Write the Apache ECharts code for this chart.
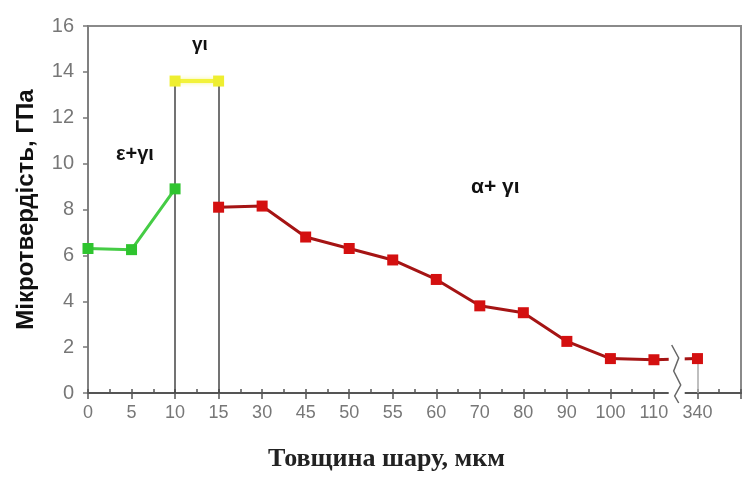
<!DOCTYPE html>
<html>
<head>
<meta charset="utf-8">
<script src="https://cdn.jsdelivr.net/npm/echarts@6/dist/echarts.min.js"></script>
<style>
html,body{margin:0;padding:0;background:#fff;}
#chart{width:744px;height:483px;}
</style>
</head>
<body>
<div id="chart"></div>
<script>
// категорії осі X (остання порожня - хвіст осі)
var categories = ['0','5','10','15','30','45','50','55','60','70','80','90','100','110','340',''];
var greenValues = [6.3, 6.25, 8.9];            // ε+γ'
var yellowValues = [null, null, 13.6, 13.6];   // γ'
var redValues = [null, null, null, 8.1, 8.15, 6.8, 6.3, 5.8, 4.95, 3.8, 3.5, 2.25, 1.5, 1.45, 1.5];
var yTicks = [0, 16, 2];

var dom = document.getElementById('chart');
var myChart = echarts.init(dom);
var option = {
	animation: false,
	backgroundColor: '#fff',
	grid: {
		left: 88, right: -3, top: 26, bottom: 90,
		show: true, borderColor: '#8a8a8a', borderWidth: 2
	},
	xAxis: [{
		type: 'category',
		data: categories,
		boundaryGap: false,
		axisLine: {lineStyle: {color: '#555', width: 2}},
		axisTick: {show: true, length: 6, alignWithLabel: true, lineStyle: {color: '#555', width: 1.5}},
		axisLabel: {color: '#777', fontSize: 18, fontFamily: 'Liberation Sans Narrow, Arial', margin: 11, interval: 0},
		splitLine: {show: false}
	}, {
		type: 'value',
		min: 0, max: 15, interval: 0.5,
		position: 'bottom',
		axisLine: {show: false},
		axisTick: {show: true, inside: true, length: 4, lineStyle: {color: '#555', width: 1.5}},
		axisLabel: {show: false},
		splitLine: {show: false}
	}],
	yAxis: {
		type: 'value',
		min: yTicks[0], max: yTicks[1], interval: yTicks[2],
		axisLine: {show: true, lineStyle: {color: '#808080', width: 2}},
		axisTick: {show: true, length: 5, lineStyle: {color: '#777', width: 1.5}},
		axisLabel: {color: '#777', fontSize: 20, fontFamily: 'Liberation Sans Narrow, Arial', margin: 14},
		splitLine: {show: false},
		name: 'Мікротвердість, ГПа',
		nameLocation: 'middle',
		nameGap: 50,
		nameTextStyle: {color: '#111', fontSize: 24, fontWeight: 'bold', fontFamily: 'Liberation Sans, Arial'}
	},
	series: [{
		type: 'line',
		data: greenValues,
		symbol: 'rect', symbolSize: 11,
		lineStyle: {color: '#45cc45', width: 3},
		itemStyle: {color: '#2fc42f'},
		z: 5
	}, {
		type: 'line',
		data: yellowValues,
		symbol: 'rect', symbolSize: 11,
		lineStyle: {color: '#f2f23a', width: 4, shadowColor: 'rgba(240,240,60,0.6)', shadowBlur: 4},
		itemStyle: {color: '#eeee30'},
		z: 5,
		markLine: {
			symbol: 'none', silent: true,
			label: {show: false},
			lineStyle: {color: '#444', width: 1.5, type: 'solid'},
			data: [
				[{coord: ['10', 0]}, {coord: ['10', 13.6]}],
				[{coord: ['15', 0]}, {coord: ['15', 13.6]}]
			]
		}
	}, {
		type: 'line',
		data: redValues,
		symbol: 'rect', symbolSize: 11,
		lineStyle: {color: '#a51414', width: 3},
		itemStyle: {color: '#d41010'},
		z: 5,
		markLine: {
			symbol: 'none', silent: true,
			label: {show: false},
			lineStyle: {color: '#aaa', width: 1.5, type: 'solid'},
			data: [
				[{coord: ['340', 0]}, {coord: ['340', 1.5]}]
			]
		}
	}]
};
myChart.setOption(option, true);

// розрив осі між 110 та 340
var p1 = myChart.convertToPixel({xAxisIndex: 0}, '110');
var p2 = myChart.convertToPixel({xAxisIndex: 0}, '340');
var yb = myChart.convertToPixel({yAxisIndex: 0}, 0);
var bx = (p1 + p2) / 2 + 2;
myChart.setOption({
	graphic: [
		{type: 'rect', z: 100, shape: {x: bx - 9, y: yb - 55, width: 16, height: 62}, style: {fill: '#fff'}},
		{type: 'polyline', z: 101, shape: {points: [[bx - 6, yb - 48], [bx + 1, yb - 35], [bx - 4, yb - 22], [bx + 3, yb - 8], [bx - 3, yb + 3], [bx + 1, yb + 10]]},
			style: {stroke: '#666', lineWidth: 1.5, fill: null}},
		{type: 'text', z: 102, left: 192, top: 35, style: {text: 'γι', font: 'bold 19px Liberation Sans, Arial', fill: '#111'}},
		{type: 'text', z: 102, left: 116, top: 144, style: {text: 'ε+γι', font: 'bold 20px Liberation Sans, Arial', fill: '#111'}},
		{type: 'text', z: 102, left: 471, top: 177, style: {text: 'α+ γι', font: 'bold 21px Liberation Sans, Arial', fill: '#111'}},
		{type: 'text', z: 102, left: 268, top: 446, style: {text: 'Товщина шару, мкм', font: 'bold 26px Liberation Serif, Times New Roman', fill: '#222'}}
	]
});
</script>
</body>
</html>
